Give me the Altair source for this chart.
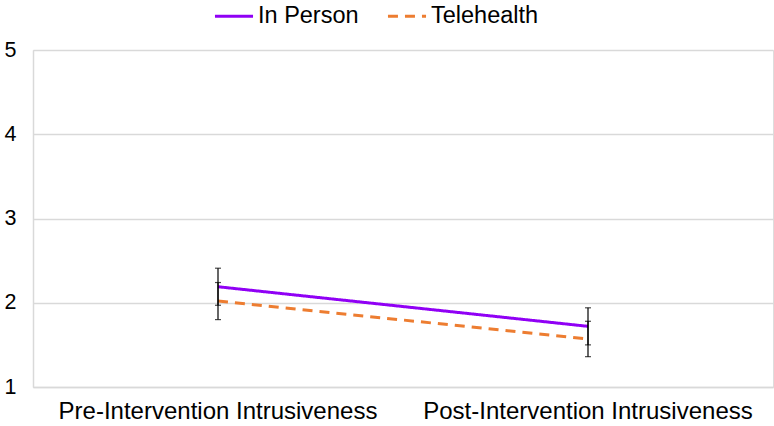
import altair as alt
import pandas as pd

phases = ["Pre-Intervention Intrusiveness", "Post-Intervention Intrusiveness"]
series = ["In Person", "Telehealth"]
in_person = [2.19, 1.72]
telehealth = [2.02, 1.57]
in_person_err = [0.22, 0.22]
telehealth_err = [0.22, 0.21]

rows = []
for s, vals, errs in [("In Person", in_person, in_person_err), ("Telehealth", telehealth, telehealth_err)]:
    for p, v, e in zip(phases, vals, errs):
        rows.append({"phase": p, "group": s, "mean": v, "lo": v - e, "hi": v + e})
df = pd.DataFrame(rows)

FONT = "Liberation Sans"

x = alt.X("phase:N", sort=phases, title=None,
          scale=alt.Scale(paddingInner=0, paddingOuter=0),
          axis=alt.Axis(labelAngle=0, labelFontSize=24, labelColor="#000000", labelFont=FONT,
                        labelLimit=0, tickSize=0, labelPadding=12, domainColor="#d9d9d9",
                        domainWidth=1.5, grid=False))

y_scale = alt.Scale(domain=[1, 5], nice=False, zero=False)

lines = alt.Chart(df).mark_line(strokeWidth=3).encode(
    x=x,
    y=alt.Y("mean:Q", scale=y_scale, title=None,
            axis=alt.Axis(values=[1, 2, 3, 4, 5], format="d", labelFontSize=21.5, labelColor="#000000",
                          labelFont=FONT, tickSize=0, labelPadding=17, domainColor="#d9d9d9",
                          domainWidth=1.5, gridColor="#d9d9d9", gridWidth=1.5)),
    color=alt.Color("group:N", sort=series,
                    scale=alt.Scale(domain=series, range=["#9000F5", "#ED7D31"]),
                    legend=alt.Legend(title=None, orient="none", direction="horizontal",
                                      legendX=180, legendY=-55, labelFontSize=23.5, labelFont=FONT,
                                      labelColor="#000000", symbolType="stroke", symbolSize=1450,
                                      symbolStrokeWidth=3, columnPadding=22, labelOffset=3)),
    strokeDash=alt.StrokeDash("group:N", sort=series,
                              scale=alt.Scale(domain=series, range=[[1, 0], [10, 7]]),
                              legend=None),
)

rules = alt.Chart(df).mark_rule(color="#000000", strokeWidth=1.2).encode(
    x=alt.X("phase:N", sort=phases),
    y="lo:Q",
    y2="hi:Q",
)
caps_lo = alt.Chart(df).mark_tick(color="#000000", size=6, thickness=1.2, orient="horizontal").encode(
    x=alt.X("phase:N", sort=phases), y="lo:Q")
caps_hi = alt.Chart(df).mark_tick(color="#000000", size=6, thickness=1.2, orient="horizontal").encode(
    x=alt.X("phase:N", sort=phases), y="hi:Q")

chart = alt.layer(lines, rules, caps_lo, caps_hi).properties(
    width=740, height=337,
    autosize=alt.AutoSizeParams(type="none"),
    padding={"left": 33, "top": 50, "right": 1, "bottom": 39},
).configure_view(stroke=None).configure(background="#ffffff")

chart.save("out.html", embed_options={"renderer": "svg", "actions": False})
